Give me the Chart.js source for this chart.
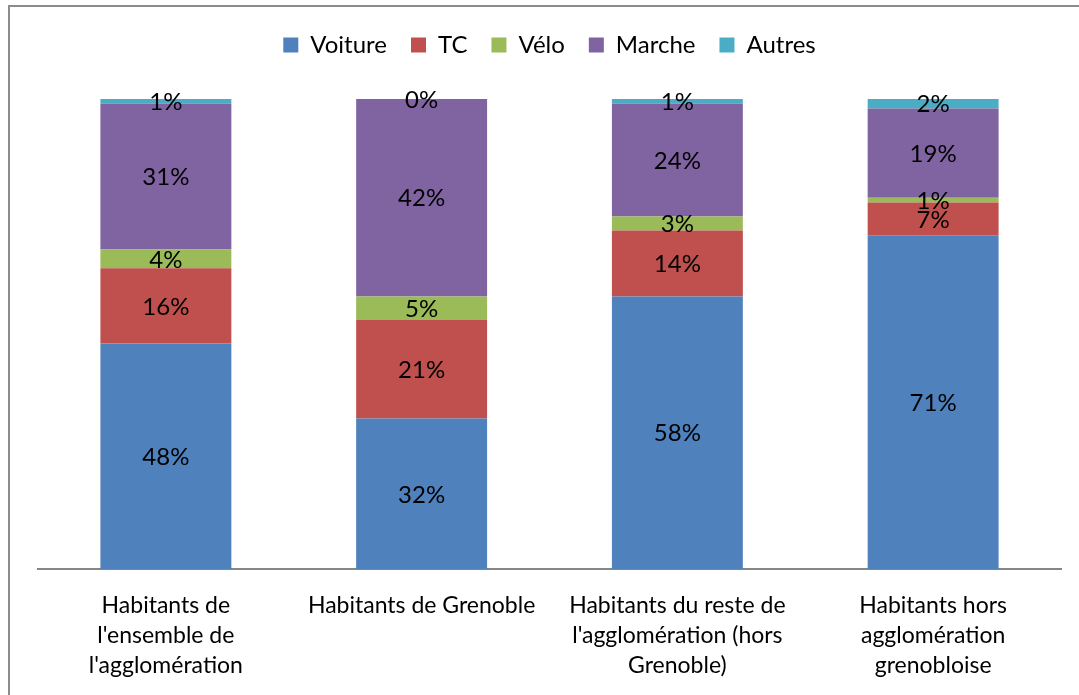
<!DOCTYPE html>
<html>
<head>
<meta charset="utf-8">
<script src="https://cdn.jsdelivr.net/npm/chart.js@4.4.1/dist/chart.umd.min.js"></script>
<style>
  html, body { margin: 0; padding: 0; background: #fff; overflow: hidden; }
  #wrap { position: relative; width: 1079px; height: 695px; }
  #frame {
    position: absolute; left: 8px; top: 5px; width: 1200px; height: 800px;
    border-left: 2px solid #8c8c8c; border-top: 2px solid #8c8c8c;
  }
  canvas { position: absolute; left: 0; top: 0; }
</style>
</head>
<body>
<div id="wrap">
  <div id="frame"></div>
  <canvas id="chart" width="1079" height="695"></canvas>
</div>
<script>
// Données (parts modales, en %)
const categories = [
  ["Habitants de", "l'ensemble de", "l'agglomération"],
  ["Habitants de Grenoble"],
  ["Habitants du reste de", "l'agglomération (hors", "Grenoble)"],
  ["Habitants hors", "agglomération", "grenobloise"],
];
const modes = ["Voiture", "TC", "Vélo", "Marche", "Autres"];
const voiture = [48, 32, 58, 71];
const tc = [16, 21, 14, 7];
const velo = [4, 5, 3, 1];
const marche = [31, 42, 24, 19];
const autres = [1, 0, 1, 2];
const colors = ["#4F81BD", "#C0504D", "#9BBB59", "#8064A2", "#4BACC6"];

const FONT = "Lato, 'Open Sans', sans-serif";

// Étiquettes de valeur au centre de chaque segment
const valueLabels = {
  id: "valueLabels",
  afterDatasetsDraw(chart) {
    const ctx = chart.ctx;
    ctx.save();
    ctx.font = "24px " + FONT;
    ctx.fillStyle = "#000";
    ctx.textAlign = "center";
    ctx.textBaseline = "middle";
    chart.data.datasets.forEach((ds, i) => {
      chart.getDatasetMeta(i).data.forEach((bar, j) => {
        const y = (bar.y + bar.base) / 2;
        ctx.fillText(ds.data[j] + "%", bar.x, y + 1);
      });
    });
    ctx.restore();
  },
};

// Espace supplémentaire sous la légende
const legendGap = {
  id: "legendGap",
  beforeInit(chart) {
    const fit = chart.legend.fit;
    chart.legend.fit = function () {
      fit.bind(chart.legend)();
      this.height += 32;
    };
  },
};

const series = [voiture, tc, velo, marche, autres];

new Chart(document.getElementById("chart"), {
  type: "bar",
  data: {
    labels: categories,
    datasets: series.map((d, i) => ({
      label: modes[i],
      data: d,
      backgroundColor: colors[i],
      borderWidth: 0,
      categoryPercentage: 1,
      barPercentage: 0.512,
    })),
  },
  options: {
    responsive: false,
    animation: false,
    layout: { padding: { left: 38, right: 18, top: 9, bottom: 0 } },
    plugins: {
      legend: {
        position: "top",
        labels: {
          font: { family: FONT, size: 24 },
          color: "#000",
          boxWidth: 15,
          boxHeight: 15,
          padding: 24,
        },
      },
      tooltip: { enabled: false },
    },
    scales: {
      x: {
        stacked: true,
        grid: { display: false, drawTicks: false },
        border: { display: true, color: "#868686", width: 2 },
        ticks: {
          color: "#000",
          font: { family: FONT, size: 23, lineHeight: 1.32 },
          padding: 21,
          maxRotation: 0,
          autoSkip: false,
        },
        afterFit(scale) {
          scale.height = 126;
        },
      },
      y: {
        stacked: true,
        display: false,
        min: 0,
        max: 100,
      },
    },
  },
  plugins: [valueLabels, legendGap],
});
</script>
</body>
</html>
